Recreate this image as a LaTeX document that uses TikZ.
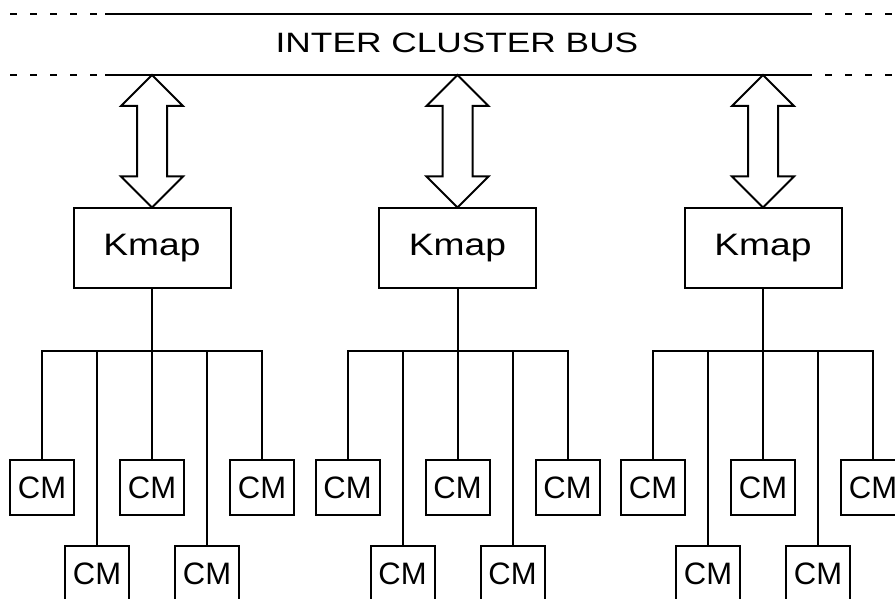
\documentclass[tikz,border=0pt]{standalone}
\usepackage{fontspec}
\usepackage{tikz}
\usetikzlibrary{calc}
\newfontfamily\plotfont[FakeStretch=1.2]{Liberation Sans}
\newfontfamily\busfont[FakeStretch=1.26]{Liberation Sans}
\newfontfamily\cmfont{Liberation Sans}

\begin{document}
\begin{tikzpicture} [x=1pt, y=-1pt, line width=2pt,
        kmapbox/.style={draw, minimum width=157pt, minimum height=79pt, font=\plotfont\fontsize{31}{33}\selectfont},
        cmbox/.style={draw, minimum width=64pt, minimum height=55pt, inner sep=0pt, font=\cmfont\fontsize{31}{33}\selectfont},
        busdash/.style={dash pattern=on 7pt off 13pt}]
        \useasboundingbox (0,0) rectangle (895,599);

        \coordinate (P) at (105,14);
        \coordinate (Q) at (812,14);
        \coordinate (R) at (105,75);
        \coordinate (S) at (812,75);
        \coordinate (P0) at (10,14);
        \coordinate (Q0) at (825,14);
        \coordinate (R0) at (10,75);
        \coordinate (S0) at (825,75);

        % inter cluster bus
        \draw (P) -- (Q);
        \draw (R) -- (S);
        \draw[busdash] (P0) -- (P);
        \draw[busdash] (R0) -- (R);
        \draw[busdash] (Q0) -- ++(75,0);
        \draw[busdash] (S0) -- ++(75,0);
        \node[anchor=base, font=\busfont\fontsize{28}{30}\selectfont] (T) at (457,53) {INTER CLUSTER BUS};

        \foreach \i/\x in {1/152, 2/457.5, 3/763} {
            \node[kmapbox] (K\i) at (\x,248) {Kmap};
            \coordinate (B\i) at (\x,75);
            \coordinate (H\i) at (\x,351);
            \draw (B\i) -- ++(31,31) -- ++(-16,0) -- ($(K\i.north)+(15,-31)$) -- ++(16,0) -- (K\i.north)
                -- ++(-31,-31) -- ++(16,0) -- ($(B\i)+(-15,31)$) -- ++(-16,0) -- cycle;
            \draw (K\i.south) -- (H\i);
            \foreach \j/\dx/\y in {1/-110/487.5, 2/-55/573.5, 3/0/487.5, 4/55/573.5, 5/110/487.5} {
                \node[cmbox] (C\i\j) at ({\x+\dx},\y) {CM};
                \draw (C\i\j.north) -- (C\i\j.north |- H\i);
            }
            \draw (C\i1.north) |- (H\i) -| (C\i5.north);
        }
    \end{tikzpicture}
\end{document}
